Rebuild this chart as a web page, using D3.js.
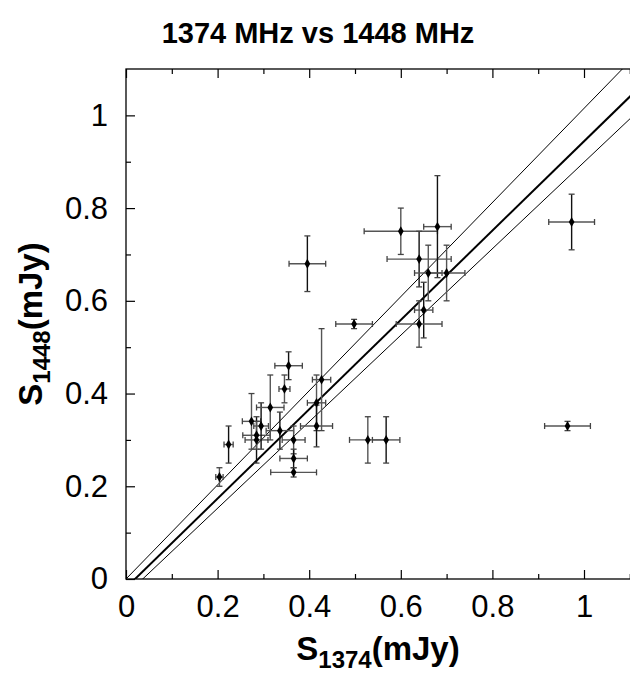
<!DOCTYPE html>
<html>
<head>
<meta charset="utf-8">
<script src="https://cdn.jsdelivr.net/npm/d3@7"></script>
<style>
  body { margin: 0; background: #fff; }
  text { font-family: "Liberation Sans", Arial, sans-serif; fill: #000; }
</style>
</head>
<body>
<div id="chart"></div>
<script>
// Fluxes (mJy)
var s1374 = [0.204, 0.224, 0.274, 0.285, 0.285, 0.295, 0.315, 0.336, 0.346, 0.355,
             0.366, 0.366, 0.366, 0.396, 0.416, 0.416, 0.427, 0.498, 0.528, 0.568,
             0.60, 0.64, 0.66, 0.65, 0.64, 0.68, 0.70, 0.973, 0.964];
var s1448 = [0.22, 0.29, 0.34, 0.30, 0.31, 0.33, 0.37, 0.32, 0.41, 0.46,
             0.30, 0.26, 0.23, 0.68, 0.38, 0.33, 0.43, 0.55, 0.30, 0.30,
             0.75, 0.69, 0.66, 0.58, 0.55, 0.76, 0.66, 0.77, 0.33];
var err1374 = [0.008, 0.01, 0.02, 0.025, 0.03, 0.016, 0.03, 0.03, 0.012, 0.03,
               0.025, 0.03, 0.05, 0.04, 0.02, 0.035, 0.02, 0.04, 0.04, 0.03,
               0.08, 0.07, 0.03, 0.02, 0.05, 0.03, 0.04, 0.05, 0.05];
var err1448 = [0.02, 0.04, 0.06, 0.05, 0.03, 0.05, 0.07, 0.04, 0.03, 0.03,
               0.03, 0.02, 0.01, 0.06, 0.06, 0.045, 0.11, 0.01, 0.05, 0.05,
               0.05, 0.06, 0.06, 0.06, 0.05, 0.11, 0.06, 0.06, 0.01];

// fitted line and its two bounds: y = slope * x + intercept
var fitSlopes = [1.015, 0.963, 0.933];
var fitIntercepts = [0, -0.019, -0.034];
var fitWidths = [1, 2, 1];

var majorTicks = [0, 0.2, 0.4, 0.6, 0.8, 1];
var minorTicks = [0.1, 0.3, 0.5, 0.7, 0.9, 1.1];

var svgWidth = 630;
var svgHeight = 673;
var margin = { top: 69, left: 126, bottom: 94 };
var plotBottom = svgHeight - margin.bottom;

var svg = d3.select("#chart")
  .append("svg")
  .attr("width", svgWidth)
  .attr("height", svgHeight);

var x = d3.scaleLinear().domain([0, 1]).range([margin.left, margin.left + 458]);
var y = d3.scaleLinear().domain([0, 1.1]).range([plotBottom, margin.top]);
var xMax = x.invert(svgWidth + 4);

svg.append("clipPath").attr("id", "plotclip")
  .append("rect")
  .attr("x", x(0)).attr("y", y(1.1))
  .attr("width", x(xMax) - x(0)).attr("height", y(0) - y(1.1));

// frame
svg.append("rect")
  .attr("x", x(0)).attr("y", y(1.1))
  .attr("width", x(xMax) - x(0)).attr("height", y(0) - y(1.1))
  .attr("fill", "none").attr("stroke", "#000").attr("stroke-width", 1.3);

var fmt = function(d) { return d3.format("~g")(d); };

// x axis: ticks pointing into the plot, top and bottom
svg.append("g")
  .attr("transform", `translate(0, ${plotBottom})`)
  .call(d3.axisBottom(x).tickValues(majorTicks).tickSize(-9).tickPadding(16).tickFormat(fmt))
  .call(g => g.select(".domain").remove())
  .call(g => g.selectAll("text").style("font-size", "31px"));
svg.append("g")
  .attr("transform", `translate(0, ${plotBottom})`)
  .call(d3.axisBottom(x).tickValues(minorTicks).tickSize(-5).tickFormat(""))
  .call(g => g.select(".domain").remove());
svg.append("g")
  .attr("transform", `translate(0, ${margin.top})`)
  .call(d3.axisTop(x).tickValues(majorTicks).tickSize(-9).tickFormat(""))
  .call(g => g.select(".domain").remove());
svg.append("g")
  .attr("transform", `translate(0, ${margin.top})`)
  .call(d3.axisTop(x).tickValues(minorTicks).tickSize(-5).tickFormat(""))
  .call(g => g.select(".domain").remove());

// y axis
svg.append("g")
  .attr("transform", `translate(${margin.left}, 0)`)
  .call(d3.axisLeft(y).tickValues(majorTicks).tickSize(-9).tickPadding(18).tickFormat(fmt))
  .call(g => g.select(".domain").remove())
  .call(g => g.selectAll("text").style("font-size", "31px"));
svg.append("g")
  .attr("transform", `translate(${margin.left}, 0)`)
  .call(d3.axisLeft(y).tickValues(minorTicks.slice(0, 5)).tickSize(-5).tickFormat(""))
  .call(g => g.select(".domain").remove());

svg.selectAll(".tick line").attr("stroke", "#000").attr("stroke-width", 1.2);

// fit lines
var plot = svg.append("g").attr("clip-path", "url(#plotclip)");
var lineGen = d3.line().x(d => x(d[0])).y(d => y(d[1]));
fitSlopes.forEach(function(m, i) {
  var b = fitIntercepts[i];
  plot.append("path")
    .attr("d", lineGen([[-0.1, m * -0.1 + b], [1.3, m * 1.3 + b]]))
    .attr("fill", "none")
    .attr("stroke", "#000")
    .attr("stroke-width", fitWidths[i]);
});

// error bars
var pts = s1374.map(function(d, i) {
  return { x: d, y: s1448[i], ex: err1374[i], ey: err1448[i] };
});
var cap = 3;
var bars = plot.selectAll(".err").data(pts).enter().append("g").attr("class", "err");
bars.append("line")
  .attr("x1", d => x(d.x - d.ex)).attr("x2", d => x(d.x + d.ex))
  .attr("y1", d => y(d.y)).attr("y2", d => y(d.y))
  .attr("stroke", "#555").attr("stroke-width", 1.4);
bars.append("line")
  .attr("x1", d => x(d.x)).attr("x2", d => x(d.x))
  .attr("y1", d => y(d.y - d.ey)).attr("y2", d => y(d.y + d.ey))
  .attr("stroke", (d, i) => i % 2 ? "#111" : "#555").attr("stroke-width", 1.4);
[-1, 1].forEach(function(s) {
  bars.append("line")
    .attr("x1", d => x(d.x + s * d.ex)).attr("x2", d => x(d.x + s * d.ex))
    .attr("y1", d => y(d.y) - cap).attr("y2", d => y(d.y) + cap)
    .attr("stroke", "#444").attr("stroke-width", 1.3);
  bars.append("line")
    .attr("x1", d => x(d.x) - cap).attr("x2", d => x(d.x) + cap)
    .attr("y1", d => y(d.y + s * d.ey)).attr("y2", d => y(d.y + s * d.ey))
    .attr("stroke", "#444").attr("stroke-width", 1.3);
});

// diamond markers
plot.selectAll(".pt").data(pts).enter()
  .append("path")
  .attr("class", "pt")
  .attr("d", d3.symbol().type(d3.symbolDiamond).size(28))
  .attr("transform", d => `translate(${x(d.x)}, ${y(d.y)})`)
  .attr("fill", "#000");

// title
svg.append("text")
  .attr("x", 318).attr("y", 43)
  .attr("text-anchor", "middle")
  .style("font-size", "29px").style("font-weight", "bold")
  .text("1374 MHz vs 1448 MHz");

// axis titles with subscripts
var xt = svg.append("text")
  .attr("x", (x(0) + svgWidth) / 2).attr("y", 660)
  .attr("text-anchor", "middle")
  .style("font-size", "33px").style("font-weight", "bold");
xt.append("tspan").text("S");
xt.append("tspan").attr("dy", 8).style("font-size", "24px").text("1374");
xt.append("tspan").attr("dy", -8).text("(mJy)");

var yt = svg.append("text")
  .attr("transform", `translate(42, ${(y(0) + y(1.1)) / 2}) rotate(-90)`)
  .attr("text-anchor", "middle")
  .style("font-size", "33px").style("font-weight", "bold");
yt.append("tspan").text("S");
yt.append("tspan").attr("dy", 8).style("font-size", "24px").text("1448");
yt.append("tspan").attr("dy", -8).text("(mJy)");
</script>
</body>
</html>
